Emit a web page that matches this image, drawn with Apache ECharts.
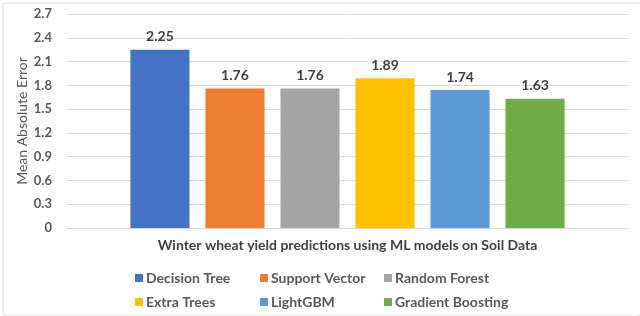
<!DOCTYPE html>
<html><head><meta charset="utf-8">
<script src="https://cdn.jsdelivr.net/npm/echarts@6/dist/echarts.min.js"></script>
<style>html,body{margin:0;padding:0;background:#fff}#c{width:640px;height:316px}</style>
</head><body><div id="c"></div>
<script>
const categories = ["Winter wheat yield predictions using ML models on Soil Data"];
const models = ["Decision Tree","Support Vector","Random Forest","Extra Trees","LightGBM","Gradient Boosting"];
const values = [2.25, 1.76, 1.76, 1.89, 1.74, 1.63];
const colors = ["#4472c4","#ed7d31","#a5a5a5","#ffc000","#5b9bd5","#70ad47"];
const yTicks = [0, 0.3, 0.6, 0.9, 1.2, 1.5, 1.8, 2.1, 2.4, 2.7];

const FONT = "Lato";
const chart = echarts.init(document.getElementById('c'));
const series = models.map((m, i) => ({
  name: m, type: 'bar', data: [values[i]],
  itemStyle: {color: colors[i]},
  barGap: '27%', barCategoryGap: '22.6%',
  label: {show: true, position: 'top', distance: 6, color: '#404040', fontWeight: 'bold', fontSize: 14, fontFamily: FONT,
    formatter: p => p.value.toFixed(2)}
}));
const legendLeft = [130, 255, 379];
const legendTop = [266, 290];
const legends = models.map((m, i) => ({
  data: [m], icon: 'rect', itemWidth: 8, itemHeight: 8, itemGap: 0,
  left: legendLeft[i % 3], top: legendTop[Math.floor(i / 3)],
  textStyle: {color: '#595959', fontWeight: 'bold', fontSize: 14, fontFamily: FONT, padding: [0,0,0,-2]}
}));
chart.setOption({
  animation: false,
  textStyle: {fontFamily: FONT},
  grid: {left: 67, right: 12, top: 14, bottom: 88, outerBoundsMode: 'none'},
  legend: legends,
  xAxis: {type: 'category', data: categories,
    axisLine: {lineStyle: {color: '#d9d9d9'}}, axisTick: {show: false},
    axisLabel: {color: '#404040', fontSize: 14, fontWeight: 'bold', fontFamily: FONT, margin: 10}},
  yAxis: {type: 'value', min: 0, max: 2.7, interval: 0.3,
    name: 'Mean Absolute Error', nameLocation: 'middle', nameGap: 38, nameRotate: 90, nameMoveOverlap: false,
    nameTextStyle: {color: '#595959', fontSize: 14, fontFamily: FONT},
    axisLabel: {color: '#595959', fontWeight: 'bold', fontSize: 13, fontFamily: FONT, margin: 15,
      formatter: v => { const t = yTicks.find(x => Math.abs(x - v) < 1e-9); return t === 0 ? '0' : t.toFixed(1); }},
    splitLine: {lineStyle: {color: '#d9d9d9'}}, axisLine: {show: false}, axisTick: {show: false}},
  graphic: [{type: 'rect', left: 0.5, top: 0.5, shape: {width: 638, height: 313, r: 3},
    style: {fill: 'none', stroke: '#d9d9d9', lineWidth: 1}, z: -1}],
  series: series
});
</script></body></html>
